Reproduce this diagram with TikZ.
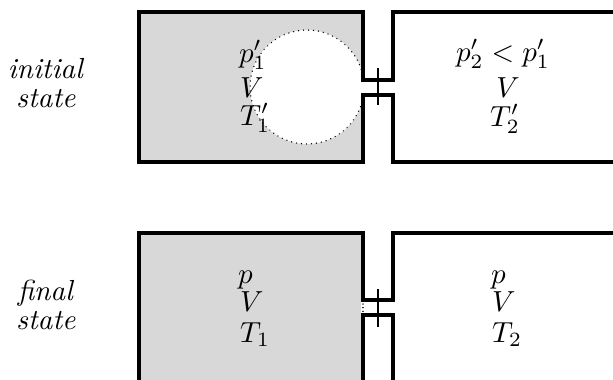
\documentclass[tikz,border=0pt]{standalone}
\tikzset{every picture/.style={line width=0.75pt}}
\tikzset{wall/.style={line width=3.6pt,miter limit=10},
  valve/.style={line width=1.2pt},
  gas/.style={fill={rgb, 255:red, 216; green, 216; blue, 216 }},
  bubble/.style={fill=white,line cap=round,dash pattern=on 0.1pt off 4.9pt,line width=1.4pt},
  lab/.style={scale=2.9,align=center,inner sep=0pt,anchor=base},
  labw/.style={lab,anchor=base west}}

\begin{document}
\begin{tikzpicture}[x=1pt,y=1pt,yscale=-1,xscale=1]
\useasboundingbox (0,0) rectangle (613,380);
\clip (0,0) rectangle (613,380);

%Shape: gas upper
\fill [gas] (139,12) -- (363,12) -- (363,162) -- (139,162) -- cycle ;
%Shape: expanded gas
\draw [bubble] (307,87) circle (57) ;
\fill [white] (360,80) rectangle (366,95) ;
%Shape: gas lower
\fill [gas] (139,233) -- (363,233) -- (363,385) -- (139,385) -- cycle ;

%Shape: walls upper
\draw [wall] (620,162) -- (393,162) -- (393,95) -- (363,95) -- (363,162) -- (139,162) -- (139,12) -- (363,12) -- (363,80) -- (393,80) -- (393,12) -- (620,12) ;
%Shape: valve upper
\draw [valve] (378,68) -- (378,105) ;

%Shape: walls lower
\draw [wall] (393,385) -- (393,315) -- (363,315) -- (363,385) ;
\draw [wall] (139,385) -- (139,233) -- (363,233) -- (363,300) -- (393,300) -- (393,233) -- (620,233) ;
%Shape: valve lower
\draw [valve] (378,289) -- (378,327) ;
%Shape: leak
\fill [white] (361,302) rectangle (366,313) ;
\draw [line cap=round,dash pattern=on 0.1pt off 3.5pt,line width=1.2pt] (363,304) -- (363,312) ;

% Text Node
\node (initial) [lab] at (46,78) {\textit{initial}};
\node (initialb) [lab] at (46,107) {\textit{state}};
% Text Node
\node (final) [lab] at (46,300) {\textit{final}};
\node (finalb) [lab] at (46,329) {\textit{state}};
% Text Node
\node (pi) [labw] at (238,62) {$p'_1$};
\node (vi) [labw] at (239,97) {$V$};
\node (ti) [labw] at (239,125) {$T'_1$};
% Text Node
\node (pii) [lab] at (503,61) {$p'_2 < p'_1$};
\node (vii) [lab] at (508,97) {$V$};
\node (tii) [lab] at (505,126) {$T'_2$};
% Text Node
\node (pf) [labw] at (237,283) {$p$};
\node (vf) [labw] at (239,311) {$V$};
\node (tf) [labw] at (239,342) {$T_1$};
% Text Node
\node (pff) [labw] at (490,283) {$p$};
\node (vff) [labw] at (491,311) {$V$};
\node (tff) [labw] at (491,342) {$T_2$};

\end{tikzpicture}
\end{document}
